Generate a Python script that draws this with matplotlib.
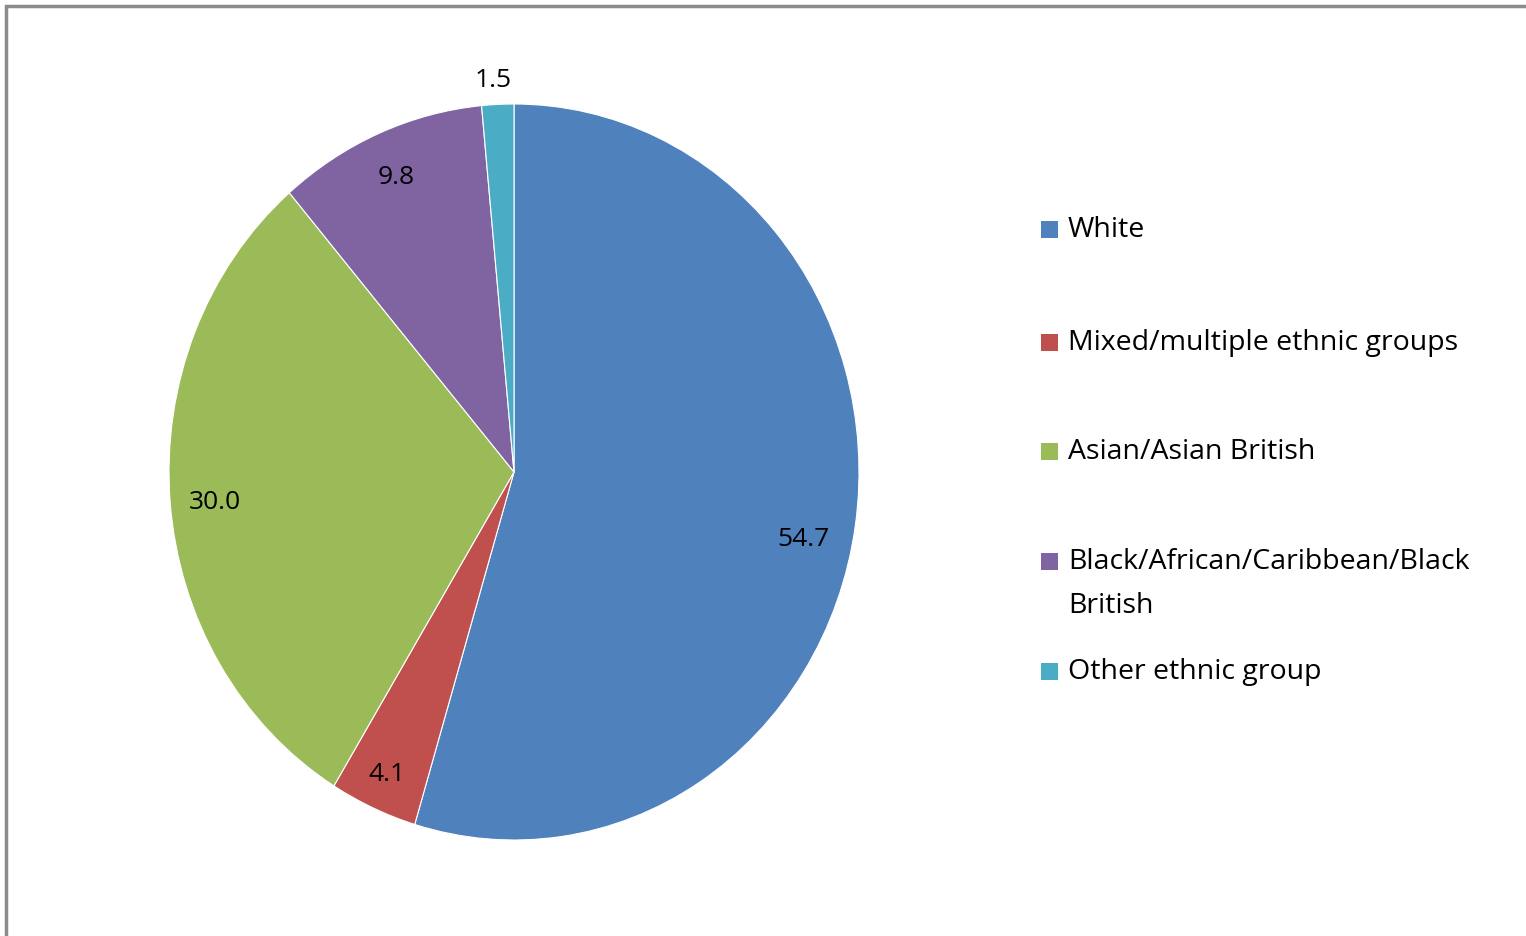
import numpy as np
import matplotlib
matplotlib.use("Agg")
import matplotlib.pyplot as plt
from matplotlib.patches import Rectangle

# ---------------------------------------------------------------------------
# Data
# ---------------------------------------------------------------------------
groups = [
    "White",
    "Mixed/multiple ethnic groups",
    "Asian/Asian British",
    "Black/African/Caribbean/Black\nBritish",
    "Other ethnic group",
]
shares = [54.7, 4.1, 30.0, 9.8, 1.5]
colors = ["#4F81BD", "#C0504D", "#9BBB59", "#8064A2", "#4BACC6"]
# data label placement: radius fraction and angle nudge (degrees)
label_r = [0.86, 0.90, 0.87, 0.87, 1.065]
label_da = [-4.0, 0.0, 0.8, 0.0, 0.5]

W, H = 1526, 936
fig = plt.figure(figsize=(W / 100, H / 100), dpi=100)
fig.patch.set_facecolor("white")

# outer chart frame (left/top visible, runs off right/bottom)
fig.patches.append(Rectangle((6 / W, -0.1), 1.2, (H - 6) / H + 0.1,
                             transform=fig.transFigure, fill=False,
                             edgecolor="#8C8C8C", linewidth=2.5))

# pie axes: slightly taller than wide, like the source
cx, cy, rx, ry = 514, 472, 345, 368
ax = fig.add_axes([(cx - rx) / W, (H - cy - ry) / H, 2 * rx / W, 2 * ry / H])
wedges, _ = ax.pie(shares, colors=colors, startangle=90, counterclock=False,
                   wedgeprops=dict(edgecolor="white", linewidth=0.8))
ax.set_aspect("auto")
ax.set_xlim(-1, 1)
ax.set_ylim(-1, 1)
ax.axis("off")

font = "Open Sans"
for w, val, r, da in zip(wedges, shares, label_r, label_da):
    ang = np.deg2rad((w.theta1 + w.theta2) / 2 + da)
    ax.text(r * np.cos(ang), r * np.sin(ang), f"{val:.1f}",
            ha="center", va="center", fontsize=19, family=font,
            color="black")

# legend drawn by hand to mimic the spreadsheet layout
leg_y = [229, 342, 451, 561, 671]
for name, col, y in zip(groups, colors, leg_y):
    fig.patches.append(Rectangle((1041 / W, (H - y - 9) / H), 17 / W, 17 / H,
                                 transform=fig.transFigure,
                                 facecolor=col, edgecolor="none"))
    first, *rest = name.split("\n")
    fig.text(1068 / W, (H - y - 1) / H, first, ha="left", va="center",
             fontsize=20.5, family=font, color="black")
    for k, line in enumerate(rest, start=1):
        fig.text(1068 / W, (H - y - 1 - 44 * k) / H, line, ha="left",
                 va="center", fontsize=20.5, family=font, color="black")

fig.savefig("out.png", dpi=100)
